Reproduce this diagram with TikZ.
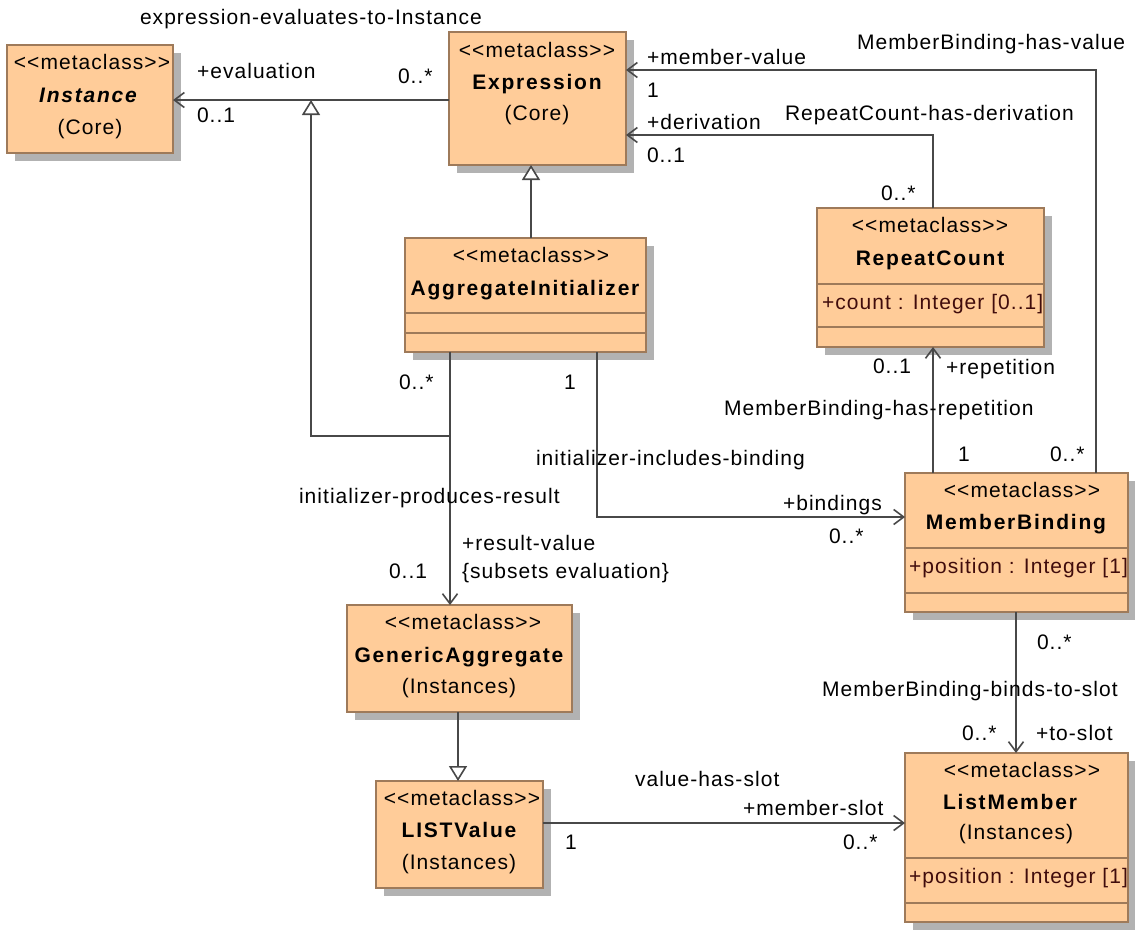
\documentclass[tikz,border=0pt]{standalone}
\usepackage{fontspec}
\setmainfont{Liberation Sans}[Ligatures=TeXOff,LetterSpace=5,BoldFeatures={LetterSpace=8.5},BoldItalicFeatures={LetterSpace=8.5}]
\usetikzlibrary{arrows.meta,shadows}
\definecolor{cfill}{RGB}{255,204,153}
\definecolor{cborder}{RGB}{158,122,90}
\definecolor{cline}{RGB}{72,72,72}
\definecolor{cshadow}{RGB}{178,178,178}
\definecolor{cattr}{RGB}{64,12,12}
\begin{document}
\begin{tikzpicture}[x=1pt,y=-1pt,
  every node/.style={font=\fontsize{21}{25}\selectfont, inner sep=0pt, outer sep=0pt},
  cls/.style={draw=cborder, fill=cfill, line width=1.8pt, anchor=north west,
    drop shadow={shadow xshift=8pt, shadow yshift=-8pt, opacity=1, fill=cshadow, draw=none}},
  txt/.style={text height=15pt, text depth=1pt},
  lbl/.style={txt, anchor=west},
  nm/.style={txt, font=\fontsize{21}{25}\selectfont\bfseries},
  attr/.style={lbl, text=cattr},
  sep/.style={draw=cborder, line width=1.8pt},
  assoc/.style={draw=cline, line width=1.6pt, -{Straight Barb[length=10pt,width=15pt]}},
  gen/.style={draw=cline, line width=1.6pt, -{Triangle[open, fill=white, length=15pt, width=18pt]}}]
\useasboundingbox (0,0) rectangle (1135,929);

% class boxes
\node[cls, minimum width=166pt, minimum height=108pt] (inst) at (7,45) {};
\node[cls, minimum width=177pt, minimum height=133pt] (expr) at (449,32) {};
\node[cls, minimum width=241pt, minimum height=114pt] (ai) at (405,238) {};
\node[cls, minimum width=227pt, minimum height=139pt] (rc) at (817,208) {};
\node[cls, minimum width=223pt, minimum height=139pt] (mb) at (905,473) {};
\node[cls, minimum width=225pt, minimum height=107pt] (ga) at (347,605) {};
\node[cls, minimum width=167pt, minimum height=107pt] (lv) at (376,781) {};
\node[cls, minimum width=223pt, minimum height=169pt] (lm) at (905,753) {};

% compartments
\draw[sep] ([yshift=-75pt]ai.north west) -- ([yshift=-75pt]ai.north east);
\draw[sep] ([yshift=-95pt]ai.north west) -- ([yshift=-95pt]ai.north east);
\draw[sep] ([yshift=-76pt]rc.north west) -- ([yshift=-76pt]rc.north east);
\draw[sep] ([yshift=-119pt]rc.north west) -- ([yshift=-119pt]rc.north east);
\draw[sep] ([yshift=-75pt]mb.north west) -- ([yshift=-75pt]mb.north east);
\draw[sep] ([yshift=-120pt]mb.north west) -- ([yshift=-120pt]mb.north east);
\draw[sep] ([yshift=-105pt]lm.north west) -- ([yshift=-105pt]lm.north east);
\draw[sep] ([yshift=-150pt]lm.north west) -- ([yshift=-150pt]lm.north east);

% box texts
\node[txt] (inst-s) at (92,62) {<<metaclass>>};
\node[txt, font=\fontsize{21}{25}\selectfont\bfseries\itshape] (inst-n) at (88,95) {Instance};
\node[txt] (inst-p) at (90,127) {(Core)};

\node[txt] (expr-s) at (537,50) {<<metaclass>>};
\node[nm] (expr-n) at (537,82) {Expression};
\node[txt] (expr-p) at (537,113) {(Core)};

\node[txt] (ai-s) at (531,255) {<<metaclass>>};
\node[nm] (ai-n) at (525,288) {AggregateInitializer};

\node[txt] (rc-s) at (930,225) {<<metaclass>>};
\node[nm] (rc-n) at (930,258) {RepeatCount};
\node[attr] (rc-a) at (822,302) {+count : Integer [0..1]};

\node[txt] (mb-s) at (1022,490) {<<metaclass>>};
\node[nm] (mb-n) at (1016,522) {MemberBinding};
\node[attr] (mb-a) at (909,566) {+position : Integer [1]};

\node[txt] (ga-s) at (463,622) {<<metaclass>>};
\node[nm] (ga-n) at (459,655) {GenericAggregate};
\node[txt] (ga-p) at (459,686) {(Instances)};

\node[txt] (lv-s) at (462,798) {<<metaclass>>};
\node[nm] (lv-n) at (459,830) {LISTValue};
\node[txt] (lv-p) at (459,862) {(Instances)};

\node[txt] (lm-s) at (1022,770) {<<metaclass>>};
\node[nm] (lm-n) at (1010,802) {ListMember};
\node[txt] (lm-p) at (1016,832) {(Instances)};
\node[attr] (lm-a) at (909,876) {+position : Integer [1]};

% routing points
\coordinate (evl) at (311,100);
\coordinate (gj) at (311,436);
\coordinate (pr) at (450,436);
\coordinate (g1) at (531,200);
\coordinate (mv) at (1096,70);
\coordinate (dv) at (933,135);
\coordinate (ib) at (597,517);
\coordinate (g2) at (458,740);
\coordinate (vs) at (700,823);
\coordinate (bs) at (1016,680);

% connectors
\draw[assoc] (expr.west |- evl) -- (inst.east |- evl);
\draw[gen] (pr) -- (gj) -- (evl);
\draw[gen] (ai.north -| g1) -- (expr.south -| g1);
\draw[assoc] (mb.north -| mv) -- (mv) -- (mv -| expr.east);
\draw[assoc] (rc.north -| dv) -- (dv) -- (dv -| expr.east);
\draw[assoc] (mb.north -| dv) -- (rc.south -| dv);
\draw[assoc] (ai.south -| ib) -- (ib) -- (ib -| mb.west);
\draw[assoc] (ai.south -| pr) -- (ga.north -| pr);
\draw[gen] (ga.south -| g2) -- (lv.north -| g2);
\draw[assoc] (lv.east |- vs) -- (lm.west |- vs);
\draw[assoc] (mb.south -| bs) -- (lm.north -| bs);

% labels
\node[lbl] (l1) at (140,17) {expression-evaluates-to-Instance};
\node[lbl] (l2) at (197,71) {+evaluation};
\node[lbl] (l3) at (197,115) {0..1};
\node[lbl] (l4) at (398,76) {0..*};
\node[lbl] (l5) at (647,57) {+member-value};
\node[lbl] (l6) at (647,90) {1};
\node[lbl] (l7) at (857,42) {MemberBinding-has-value};
\node[lbl] (l8) at (647,122) {+derivation};
\node[lbl] (l9) at (647,155) {0..1};
\node[lbl] (l10) at (785,113) {RepeatCount-has-derivation};
\node[lbl] (l11) at (881,193) {0..*};
\node[lbl] (l12) at (399,382) {0..*};
\node[lbl] (l13) at (564,382) {1};
\node[lbl] (l14) at (873,366) {0..1};
\node[lbl] (l15) at (946,367) {+repetition};
\node[lbl] (l16) at (724,408) {MemberBinding-has-repetition};
\node[lbl] (l17) at (958,454) {1};
\node[lbl] (l18) at (1050,454) {0..*};
\node[lbl] (l19) at (536,458) {initializer-includes-binding};
\node[lbl] (l20) at (299,496) {initializer-produces-result};
\node[lbl] (l21) at (783,503) {+bindings};
\node[lbl] (l22) at (829,536) {0..*};
\node[lbl] (l23) at (462,543) {+result-value};
\node[lbl] (l24) at (462,571) {\{subsets evaluation\}};
\node[lbl] (l25) at (389,571) {0..1};
\node[lbl] (l26) at (1037,642) {0..*};
\node[lbl] (l27) at (822,689) {MemberBinding-binds-to-slot};
\node[lbl] (l28) at (962,733) {0..*};
\node[lbl] (l29) at (1036,733) {+to-slot};
\node[lbl] (l30) at (635,779) {value-has-slot};
\node[lbl] (l31) at (743,808) {+member-slot};
\node[lbl] (l32) at (565,842) {1};
\node[lbl] (l33) at (843,842) {0..*};
\end{tikzpicture}
\end{document}
